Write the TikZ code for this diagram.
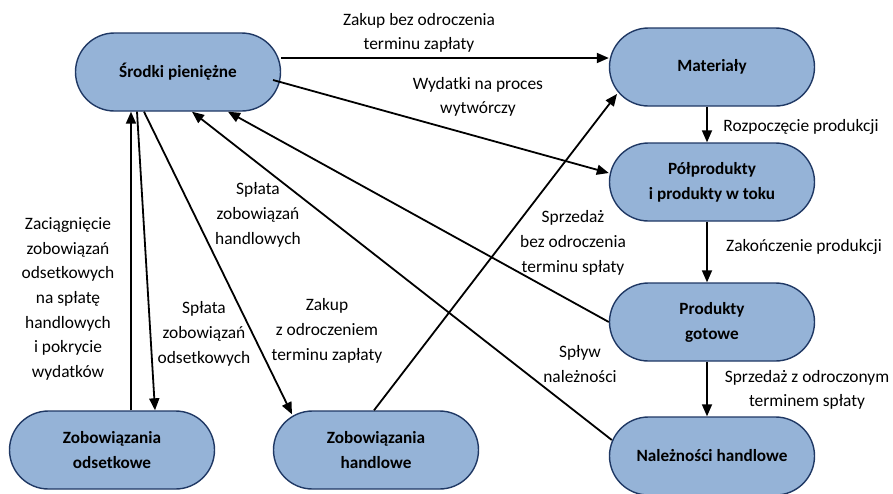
\documentclass[tikz,border=0pt]{standalone}
\usepackage{fontspec}
\setmainfont{Carlito}
\usetikzlibrary{shapes.misc,arrows.meta,calc}
\definecolor{boxfill}{HTML}{95B3D7}
\definecolor{boxline}{HTML}{1F3864}
\begin{document}
\begin{tikzpicture}[x=1pt,y=-1pt,
  stock/.style={rounded rectangle, draw=boxline, fill=boxfill, line width=1.4pt,
    minimum width=205pt, minimum height=78pt, inner sep=0pt, align=center,
    font=\fontsize{17.2}{25}\selectfont\bfseries},
  flow/.style={-{Triangle[length=12pt,width=10pt]}, line width=1.8pt},
  lbl/.style={font=\fontsize{17.4}{24.7}\selectfont, align=center, inner sep=0pt}]
\useasboundingbox (0,0) rectangle (893,493);

% stocks
\node[stock] (s)  at (178,72)  {Środki pieniężne};
\node[stock] (m)  at (712,67)  {Materiały};
\node[stock] (p)  at (712,182) {Półprodukty\\i produkty w toku};
\node[stock] (g)  at (712,322) {Produkty\\gotowe};
\node[stock] (n)  at (712,456) {Należności handlowe};
\node[stock] (zo) at (112,450) {Zobowiązania\\odsetkowe};
\node[stock] (zh) at (376,450) {Zobowiązania\\handlowe};

% flows
\draw[flow] ([yshift=14pt]s.east) -- ([yshift=9pt]m.west);
\draw[flow] ([shift={(95pt,-8pt)}]s.center) -- ([yshift=9pt]p.west);
\draw[flow] ([xshift=-2pt]zh.north) -- ([shift={(-95pt,-27pt)}]m.center);
\draw[flow] (g.west) -- ([xshift=50pt]s.south);
\draw[flow] ([shift={(3pt,16pt)}]n.west) -- ([xshift=14pt]s.south);
\draw[flow] ([xshift=-34pt]s.south) -- ([shift={(-84pt,-4pt)}]zh.north);
\draw[flow] ([xshift=-41pt]s.south) -- ([xshift=43pt]zo.north);
\draw[flow] ([xshift=19pt]zo.north) -- ([xshift=-47pt]s.south);
\draw[flow] ([xshift=-5pt]m.south) -- ([xshift=-5pt]p.north);
\draw[flow] ([xshift=-5pt]p.south) -- ([xshift=-5pt]g.north);
\draw[flow] ([xshift=-5pt]g.south) -- ([xshift=-5pt]n.north);

% flow labels
\node[lbl] (l1)  at (419,33)  {Zakup bez odroczenia\\terminu zapłaty};
\node[lbl] (l2)  at (478,97)  {Wydatki na proces\\wytwórczy};
\node[lbl] (l3)  at (258,215) {Spłata\\zobowiązań\\handlowych};
\node[lbl] (l4)  at (68,299)  {Zaciągnięcie\\zobowiązań\\odsetkowych\\na spłatę\\handlowych\\i pokrycie\\wydatków};
\node[lbl] (l5)  at (204,334) {Spłata\\zobowiązań\\odsetkowych};
\node[lbl] (l6)  at (327,331) {Zakup\\z odroczeniem\\terminu zapłaty};
\node[lbl] (l7)  at (573,243) {Sprzedaż\\bez odroczenia\\terminu spłaty};
\node[lbl] (l8)  at (580,364) {Spływ\\należności};
\node[lbl] (l9)  at (801,127) {Rozpoczęcie produkcji};
\node[lbl] (l10) at (804,247) {Zakończenie produkcji};
\node[lbl] (l11) at (807,390) {Sprzedaż z odroczonym\\terminem spłaty};
\end{tikzpicture}
\end{document}
